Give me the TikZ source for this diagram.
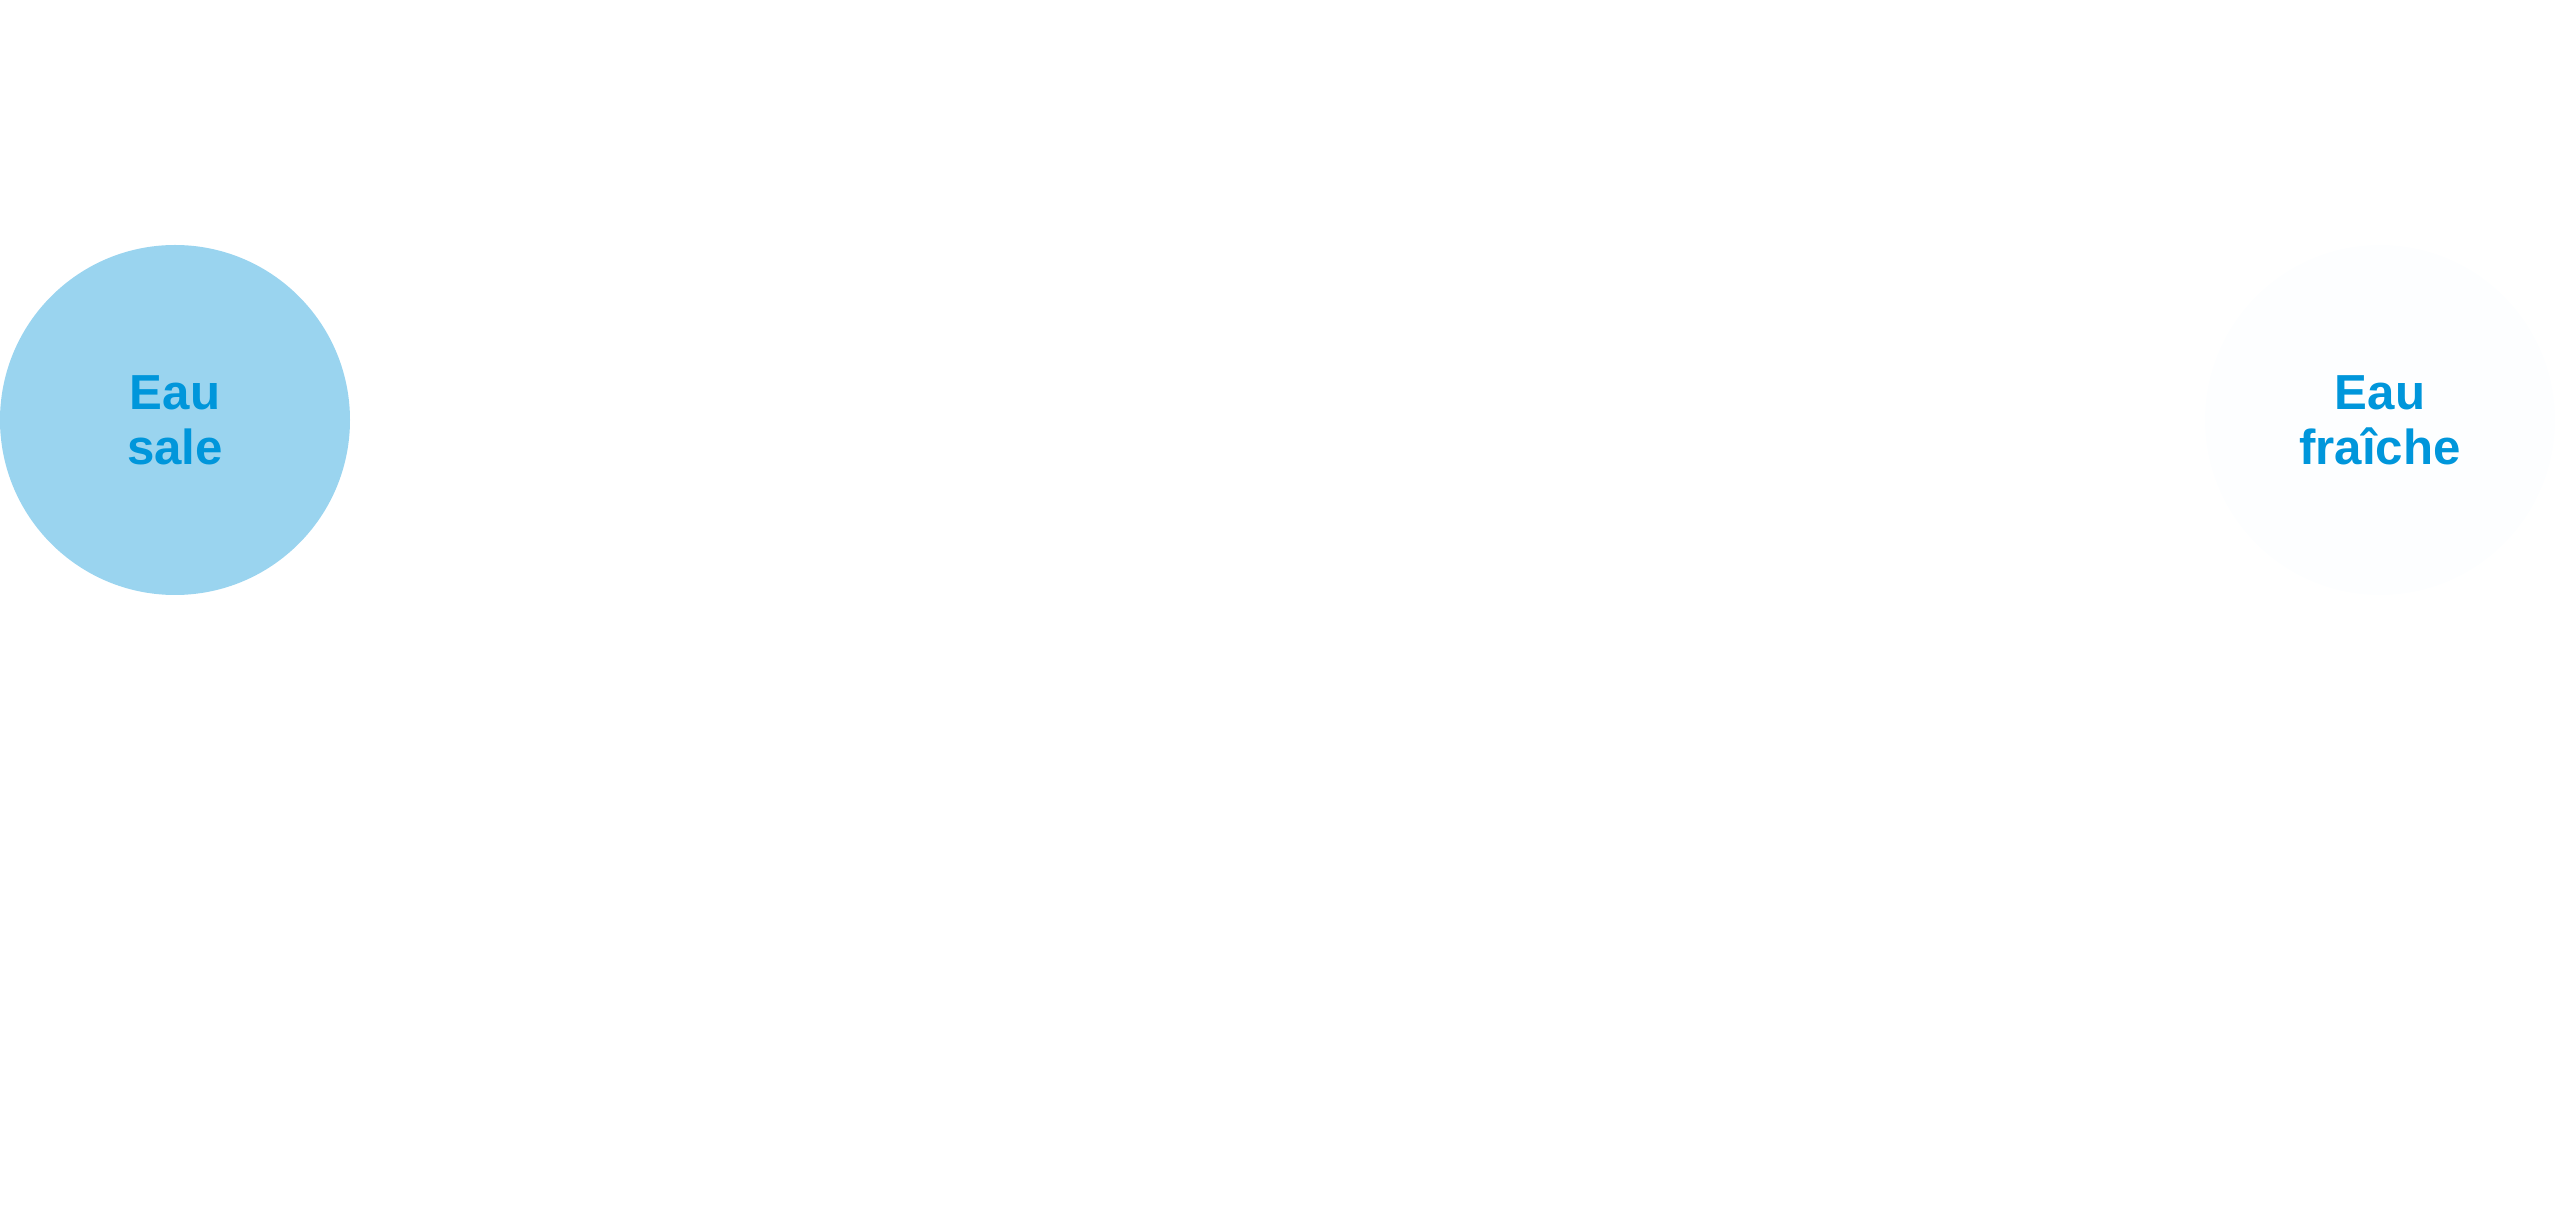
\documentclass[tikz,border=0pt]{standalone}
\usepackage{fontspec}
\setmainfont{Liberation Sans}
\usetikzlibrary{positioning}
\definecolor{dirtyfill}{HTML}{9AD4EF}
\definecolor{freshfill}{HTML}{FDFEFF}
\definecolor{watertext}{HTML}{0096DB}
\begin{document}
\begin{tikzpicture}[
    water/.style={circle,draw=none,minimum size=3.5cm,inner sep=0pt,align=center,
      text=watertext,font=\fontsize{14}{15.6}\selectfont\bfseries}
  ]

  \useasboundingbox (0,0) rectangle (25.6,12.12);

  \node (dirty) [water,fill=dirtyfill] at(1.75,7.92) {Eau\\sale};
  \node (fresh) [water,fill=freshfill] at(23.8,7.92) {Eau\\fraîche};

\end{tikzpicture}
\end{document}
